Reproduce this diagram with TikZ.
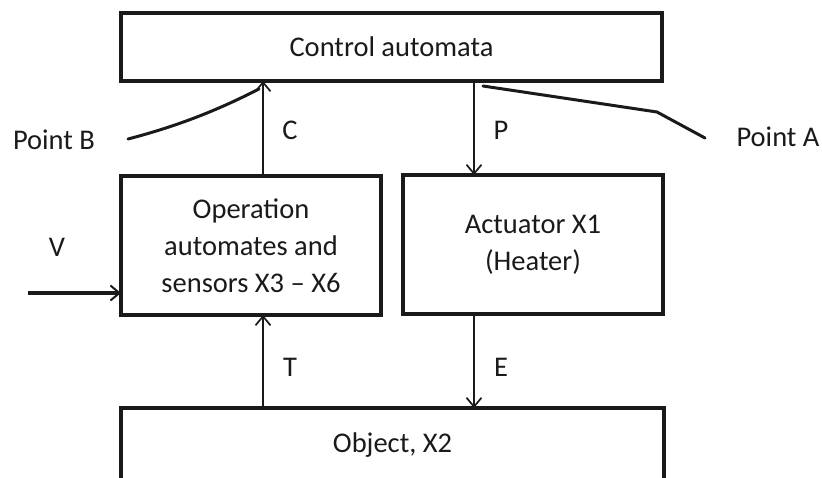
\documentclass[tikz,border=0pt]{standalone}
\usepackage{fontspec}
\setmainfont{Carlito}
\usetikzlibrary{arrows.meta}
\definecolor{ink}{HTML}{1A1A1A}
\begin{document}
\begin{tikzpicture}[x=1pt,y=-1pt,
  every node/.style={text=ink, font=\fontsize{28.5}{37}\selectfont},
  block/.style={draw=ink, line width=3.4pt, inner sep=0pt, outer sep=0pt, align=center},
  sig/.style={draw=ink, line width=1.7pt, -{Straight Barb[length=9pt,width=15pt,line width=1.7pt]}},
  feed/.style={draw=ink, line width=3.2pt, -{Straight Barb[length=9pt,width=15pt,line width=2pt]}},
  probe/.style={draw=ink, line width=3pt, line cap=round, line join=round},
  tag/.style={inner sep=0pt}]
\useasboundingbox (0,0) rectangle (822,477);
\clip (0,0) rectangle (822,477);

% blocks
\node[block, minimum width=541pt, minimum height=68pt] (ctrl) at (391.5,47) {Control automata};
\node[block, minimum width=260pt, minimum height=139pt] (oper) at (251,245.5)
  {Operation\\automates and\\sensors X3 -- X6};
\node[block, minimum width=260pt, minimum height=139pt] (act) at (533,244.5)
  {Actuator X1\\(Heater)};
\node[block, minimum width=543pt, minimum height=74pt] (obj) at (392.5,445) {Object, X2};

% signal columns
\coordinate (lx) at (263,0);
\coordinate (rx) at (474,0);
\coordinate (vin) at (28,293);

\draw[sig] (oper.north -| lx) -- (ctrl.south -| lx);
\draw[sig] (ctrl.south -| rx) -- (act.north -| rx);
\draw[sig] (obj.north -| lx) -- (oper.south -| lx);
\draw[sig] (act.south -| rx) -- (obj.north -| rx);
\draw[feed] (vin) -- (vin -| oper.west);

% signal names
\node[tag] (c) at (290,130) {C};
\node[tag] (p) at (501,130) {P};
\node[tag] (t) at (290,367) {T};
\node[tag] (e) at (501,367) {E};
\node[tag] (v) at (57,247) {V};

% measurement points
\node[tag] (pb) at (54,140) {Point B};
\node[tag] (pa) at (778,137) {Point A};
\coordinate (bs) at (128,139);
\coordinate (be) at (259,89);
\coordinate (as) at (483,86);
\coordinate (ak) at (657,112);
\coordinate (ae) at (705,138);
\draw[probe] (bs) .. controls (178,126) and (218,110) .. (be);
\draw[probe] (as) -- (ak) -- (ae);
\end{tikzpicture}
\end{document}
